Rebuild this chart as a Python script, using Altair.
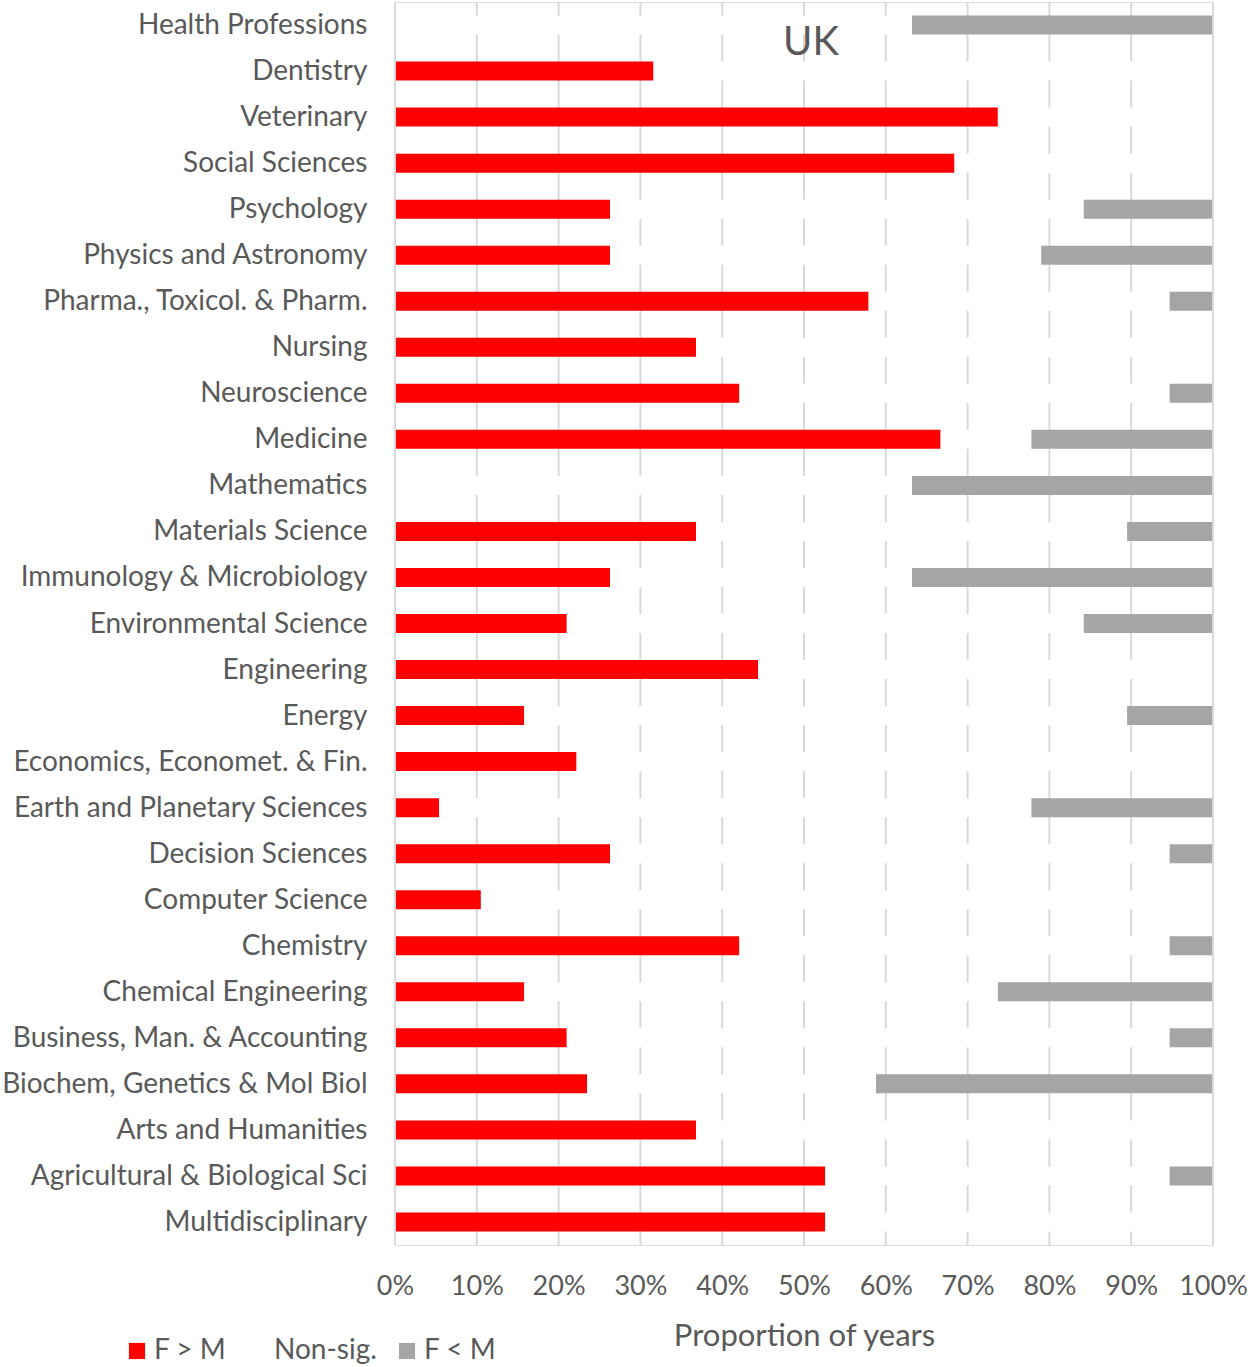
import altair as alt
import pandas as pd

categories = [
    "Health Professions", "Dentistry", "Veterinary", "Social Sciences", "Psychology",
    "Physics and Astronomy", "Pharma., Toxicol. & Pharm.", "Nursing", "Neuroscience",
    "Medicine", "Mathematics", "Materials Science", "Immunology & Microbiology",
    "Environmental Science", "Engineering", "Energy", "Economics, Economet. & Fin.",
    "Earth and Planetary Sciences", "Decision Sciences", "Computer Science", "Chemistry",
    "Chemical Engineering", "Business, Man. & Accounting", "Biochem, Genetics & Mol Biol",
    "Arts and Humanities", "Agricultural & Biological Sci", "Multidisciplinary",
]
f_gt_m = [0.0, 31.6, 73.7, 68.4, 26.3, 26.3, 57.9, 36.8, 42.1, 66.7, 0.0, 36.8, 26.3,
          21.0, 44.4, 15.8, 22.2, 5.4, 26.3, 10.5, 42.1, 15.8, 21.0, 23.5, 36.8, 52.6, 52.6]
f_lt_m = [36.8, 0.0, 0.0, 0.0, 15.8, 21.0, 5.3, 0.0, 5.3, 22.2, 36.8, 10.5, 36.8,
          15.8, 0.0, 10.5, 0.0, 22.2, 5.3, 0.0, 5.3, 26.3, 5.3, 41.2, 0.0, 5.3, 0.0]
series = ["F > M", "Non-sig.", "F < M"]
colors = ["#ff0000", "#ffffff", "#a5a5a5"]
tick_values = [0, 10, 20, 30, 40, 50, 60, 70, 80, 90, 100]

rows = []
for c, a, b in zip(categories, f_gt_m, f_lt_m):
    vals = [a, 100 - a - b, b]
    for i, (s, v) in enumerate(zip(series, vals)):
        rows.append({"cat": c, "series": s, "val": v / 100.0, "ord": i})
df = pd.DataFrame(rows)
grid_df = pd.DataFrame({"t": [v / 100.0 for v in tick_values]})
edge_df = pd.DataFrame({"t": [tick_values[0] / 100.0, tick_values[-1] / 100.0]})

FONT = "Lato"
GREY = "#595959"

xscale = alt.Scale(domain=[0, 1], nice=False, zero=True)

grid = alt.Chart(grid_df).mark_rule(color="#d9d9d9", strokeWidth=2).encode(
    x=alt.X("t:Q", scale=xscale)
)

bars = alt.Chart(df).mark_bar(size=19).encode(
    y=alt.Y("cat:N", sort=categories, title=None,
            axis=alt.Axis(labelFont=FONT, labelFontSize=28, labelColor=GREY,
                          labelPadding=28, ticks=False, domain=False, grid=False,
                          labelLimit=400, labelOffset=1)),
    x=alt.X("val:Q", stack="zero", scale=xscale, title="Proportion of years",
            axis=alt.Axis(values=[v / 100.0 for v in tick_values], format=".0%",
                          labelFont=FONT, labelFontSize=27, labelColor=GREY,
                          labelPadding=28, ticks=False, domain=False, grid=False,
                          labelOverlap=False, labelFlush=False, labelBound=False,
                          titleFont=FONT, titleFontSize=31, titleColor=GREY,
                          titleFontWeight="normal", titlePadding=22)),
    color=alt.Color("series:N", scale=alt.Scale(domain=series, range=colors),
                    sort=series,
                    legend=alt.Legend(title=None, orient="none", direction="horizontal",
                                      legendX=-272, legendY=1335,
                                      labelFont=FONT, labelFontSize=28, labelColor=GREY,
                                      symbolType="square", symbolSize=260,
                                      symbolStrokeWidth=0, labelOffset=3,
                                      columnPadding=16)),
    order=alt.Order("ord:Q"),
)

edges = alt.Chart(edge_df).mark_rule(color="#d9d9d9", strokeWidth=2).encode(
    x=alt.X("t:Q", scale=xscale)
)

chart = alt.layer(grid, bars, edges).properties(
    width=818, height=1243,
    title=alt.TitleParams("UK", font=FONT, fontSize=40, color=GREY,
                          fontWeight="normal", anchor="middle", baseline="top",
                          dy=66, dx=7),
    autosize=alt.AutoSizeParams(type="none"),
    padding={"left": 395, "top": 2, "right": 37, "bottom": 122},
).configure_view(stroke=None).configure(background="white")

chart.save("out.html", embed_options={"renderer": "svg", "actions": False})
